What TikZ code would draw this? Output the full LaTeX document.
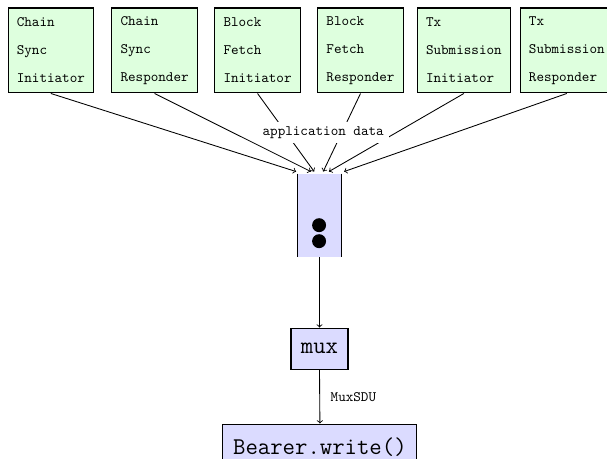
\documentclass[tikz,border=0pt]{standalone}
\usetikzlibrary{positioning}
\begin{document}
\begin{tikzpicture}[>=to,font=\ttfamily]
    \tikzstyle{proto}=[draw, thick, fill=green!13, font=\ttfamily\fontsize{10}{19.5}\selectfont, align=left, inner xsep=6pt, minimum height=2.07cm]
    \tikzstyle{blk}=[draw, thick, fill=blue!14, font=\ttfamily\fontsize{16.7}{20}\selectfont]
    \tikzstyle{conn}=[->, semithick]
    \useasboundingbox (0,0) rectangle (14.8,-11.19);
    \node[proto] (p1) at (1.24,-1.23){Chain\\Sync\\Initiator};
    \node[proto] (p2) at (3.77,-1.23){Chain\\Sync\\Responder};
    \node[proto] (p3) at (6.28,-1.23){Block\\Fetch\\Initiator};
    \node[proto] (p4) at (8.79,-1.23){Block\\Fetch\\Responder};
    \node[proto] (p5) at (11.31,-1.23){Tx\\Submission\\Initiator};
    \node[proto] (p6) at (13.82,-1.23){Tx\\Submission\\Responder};
    % queue of segments
    \node[fill=blue!14, minimum width=1.05cm, minimum height=2.02cm, inner sep=0pt] (q) at (7.79,-5.25){};
    \draw[thick] (q.north west) -- (q.south west) (q.north east) -- (q.south east);
    \fill (7.78,-5.49) circle (0.17);
    \fill (7.78,-5.88) circle (0.17);
    \draw[conn] (p1.south) -- ([xshift=-0.57cm,yshift=0.05cm]q.north);
    \draw[conn] (p2.south) -- ([xshift=-0.21cm,yshift=0.05cm]q.north);
    \draw[conn] (p3.south) -- ([xshift=-0.13cm,yshift=0.05cm]q.north);
    \draw[conn] (p4.south) -- ([xshift=0.09cm,yshift=0.05cm]q.north);
    \draw[conn] (p5.south) -- ([xshift=0.23cm,yshift=0.05cm]q.north);
    \draw[conn] (p6.south) -- ([xshift=0.6cm,yshift=0.05cm]q.north);
    \node[fill=white, above=0.73cm of q, xshift=0.09cm] (appdata){application data};
    \node[blk, minimum width=1.39cm, minimum height=1cm] (mux) at (7.79,-8.5){mux};
    \node[blk, minimum width=4.73cm, minimum height=1.12cm] (bw) at (7.8,-10.9){Bearer.write()};
    \draw[conn] (q.south) -- (mux.north);
    \draw[conn] (mux.south) -- node[right=4pt]{MuxSDU} (bw.north);
  \end{tikzpicture}
\end{document}
